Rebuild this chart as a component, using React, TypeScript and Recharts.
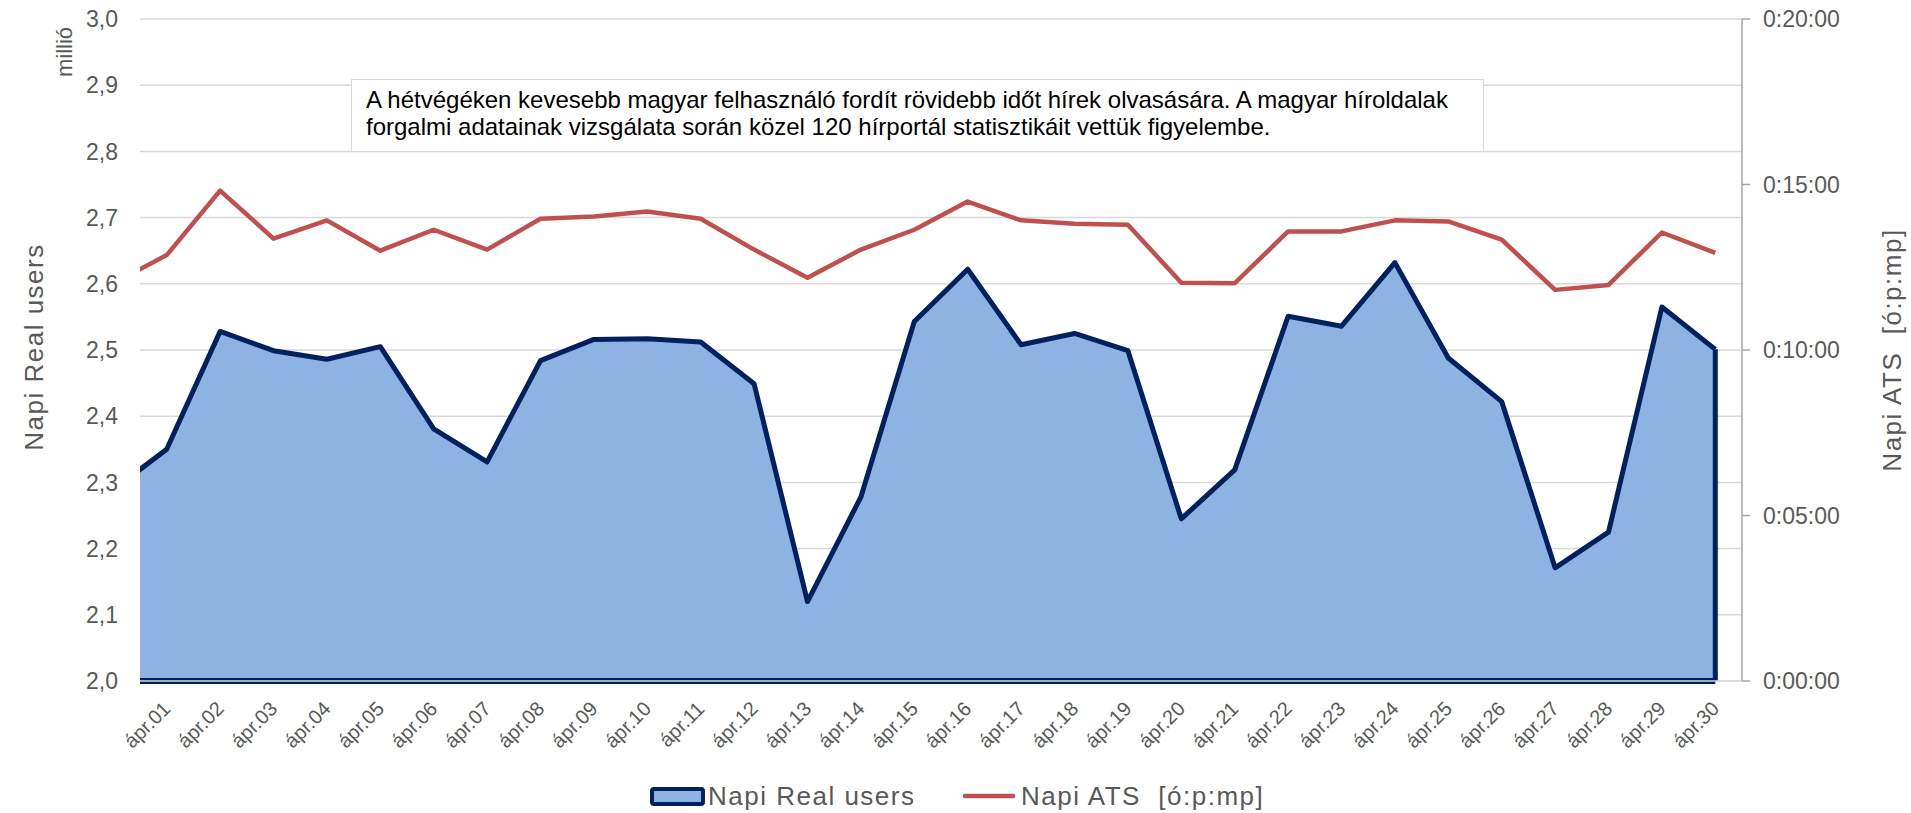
import React from 'react';
import { ComposedChart, Area, Line, XAxis, YAxis, CartesianGrid, ReferenceLine } from 'recharts';

const FONT = "'Liberation Sans', Arial, sans-serif";
const TEXT_COLOR = '#595959';

// Categories (first one lies just outside the visible axis range, as in the source)
const categories = [
  'márc.31', 'ápr.01', 'ápr.02', 'ápr.03', 'ápr.04', 'ápr.05', 'ápr.06', 'ápr.07', 'ápr.08', 'ápr.09', 'ápr.10',
  'ápr.11', 'ápr.12', 'ápr.13', 'ápr.14', 'ápr.15', 'ápr.16', 'ápr.17', 'ápr.18', 'ápr.19', 'ápr.20',
  'ápr.21', 'ápr.22', 'ápr.23', 'ápr.24', 'ápr.25', 'ápr.26', 'ápr.27', 'ápr.28', 'ápr.29', 'ápr.30',
];

// Napi Real users (millió)
const realUsers = [
  2.289, 2.350, 2.528, 2.499, 2.486, 2.505, 2.381, 2.331, 2.484, 2.516, 2.517,
  2.512, 2.449, 2.120, 2.278, 2.543, 2.622, 2.508, 2.525, 2.499, 2.245,
  2.319, 2.551, 2.536, 2.632, 2.488, 2.422, 2.171, 2.225, 2.565, 2.501,
];

// Napi ATS in seconds
const atsSeconds = [
  721, 772, 889, 802, 835, 780, 818, 782, 838, 842, 851,
  838, 782, 731, 782, 818, 869, 835, 829, 827, 722,
  721, 815, 815, 835, 833, 800, 709, 718, 813, 776,
];

const leftTicks = [2.0, 2.1, 2.2, 2.3, 2.4, 2.5, 2.6, 2.7, 2.8, 2.9, 3.0];
const rightTicks = [0, 300, 600, 900, 1200];

const textBoxLines = [
  'A hétvégéken kevesebb magyar felhasználó fordít rövidebb időt hírek olvasására. A magyar híroldalak',
  'forgalmi adatainak vizsgálata során közel 120 hírportál statisztikáit vettük figyelembe.',
];

const seriesNames = ['Napi Real users', 'Napi ATS  [ó:p:mp]'];

const data = categories.map((label, i) => ({
  x: i,
  label,
  users: realUsers[i],
  ats: atsSeconds[i],
}));

const xTicks = categories.map((_, i) => i).slice(1);
const X_MIN = 0.5;
const X_MAX = categories.length - 0.5;
const lastIdx = categories.length - 1;

const fmtLeft = (v: number) => v.toFixed(1).replace('.', ',');
const fmtRight = (v: number) => {
  const m = Math.floor(v / 60);
  const s = Math.round(v % 60);
  return `0:${String(m).padStart(2, '0')}:${String(s).padStart(2, '0')}`;
};

const XTick = (props: any) => {
  const { x, y, payload } = props;
  const ax = x + 5;
  const ay = y + 29;
  return (
    <text
      x={ax}
      y={ay}
      transform={`rotate(-45 ${ax} ${ay})`}
      textAnchor="end"
      fill={TEXT_COLOR}
      fontSize={20}
      fontFamily={FONT}
    >
      {categories[payload.value]}
    </text>
  );
};

const LeftLabel = (props: any) => {
  const vb = props.viewBox || { x: 0, y: 19, width: 140, height: 662 };
  const cy = vb.y + vb.height / 2;
  return (
    <g>
      <text
        x={vb.x + 34}
        y={cy - 3}
        transform={`rotate(-90 ${vb.x + 34} ${cy - 3})`}
        textAnchor="middle"
        dominantBaseline="central"
        fill={TEXT_COLOR}
        fontSize={26}
        letterSpacing={1.5}
        fontFamily={FONT}
      >
        Napi Real users
      </text>
      <text
        x={vb.x + 64}
        y={vb.y + 33}
        transform={`rotate(-90 ${vb.x + 64} ${vb.y + 33})`}
        textAnchor="middle"
        dominantBaseline="central"
        fill={TEXT_COLOR}
        fontSize={22}
        fontFamily={FONT}
      >
        millió
      </text>
    </g>
  );
};

const RightLabel = (props: any) => {
  const vb = props.viewBox || { x: 1742, y: 19, width: 169, height: 662 };
  const cx = vb.x + 150;
  const cy = vb.y + vb.height / 2;
  return (
    <text
      x={cx}
      y={cy}
      transform={`rotate(-90 ${cx} ${cy})`}
      textAnchor="middle"
      dominantBaseline="central"
      fill={TEXT_COLOR}
      fontSize={26}
      letterSpacing={1.5}
      fontFamily={FONT}
      style={{ whiteSpace: 'pre' }}
    >
      {seriesNames[1]}
    </text>
  );
};

export default function App() {
  return (
    <div style={{ position: 'absolute', left: 0, top: 0, width: 1911, height: 813, background: '#fff', fontFamily: FONT }}>
      <ComposedChart width={1911} height={813} data={data} margin={{ top: 19, right: 0, bottom: 0, left: 0 }}>
        <CartesianGrid yAxisId="left" vertical={false} stroke="#d9d9d9" strokeWidth={1.5} />
        <XAxis
          dataKey="x"
          type="number"
          domain={[X_MIN, X_MAX]}
          allowDataOverflow
          ticks={xTicks}
          interval={0}
          height={132}
          axisLine={false}
          tickLine={false}
          tickSize={0}
          tickMargin={0}
          tick={<XTick />}
        />
        <YAxis
          yAxisId="left"
          orientation="left"
          width={140}
          domain={[2, 3]}
          ticks={leftTicks}
          allowDataOverflow
          tickFormatter={fmtLeft}
          axisLine={false}
          tickLine={false}
          tickSize={0}
          tickMargin={22}
          tick={{ fill: TEXT_COLOR, fontSize: 23, fontFamily: FONT }}
          label={<LeftLabel />}
        />
        <YAxis
          yAxisId="right"
          orientation="right"
          width={169}
          domain={[0, 1200]}
          ticks={rightTicks}
          tickFormatter={fmtRight}
          axisLine={{ stroke: '#a6a6a6', strokeWidth: 1.5 }}
          tickLine={{ stroke: '#a6a6a6', strokeWidth: 1.5 }}
          tickSize={8}
          tickMargin={13}
          tick={{ fill: TEXT_COLOR, fontSize: 23, fontFamily: FONT }}
          label={<RightLabel />}
        />
        <Area
          yAxisId="left"
          dataKey="users"
          name={seriesNames[0]}
          type="linear"
          baseValue={2}
          fill="#8db3e2"
          fillOpacity={1}
          stroke="#002060"
          strokeWidth={5}
          strokeLinejoin="round"
          isAnimationActive={false}
          dot={false}
          activeDot={false}
        />
        <ReferenceLine
          yAxisId="left"
          segment={[{ x: X_MIN, y: 2 }, { x: lastIdx, y: 2 }]}
          stroke="#002060"
          strokeWidth={6}
        />
        <ReferenceLine
          yAxisId="left"
          segment={[{ x: lastIdx, y: 2 }, { x: lastIdx, y: realUsers[lastIdx] }]}
          stroke="#002060"
          strokeWidth={5}
        />
        <ReferenceLine yAxisId="left" y={2} stroke="#d9d9d9" strokeWidth={1.5} />
        <Line
          yAxisId="right"
          dataKey="ats"
          name={seriesNames[1]}
          type="linear"
          stroke="#c0504d"
          strokeWidth={4.5}
          strokeLinejoin="round"
          dot={false}
          activeDot={false}
          isAnimationActive={false}
        />
      </ComposedChart>

      <div
        style={{
          position: 'absolute',
          left: 351,
          top: 79,
          width: 1133,
          height: 73,
          boxSizing: 'border-box',
          border: '1.5px solid #d9d9d9',
          background: '#fff',
          paddingLeft: 14,
          paddingTop: 7,
          fontSize: 24,
          lineHeight: '26.5px',
          color: '#000',
          whiteSpace: 'nowrap',
          fontFamily: FONT,
        }}
      >
        {textBoxLines[0]}
        <br />
        {textBoxLines[1]}
      </div>

      <svg width={1911} height={60} style={{ position: 'absolute', left: 0, top: 760 }}>
        <rect x={652} y={29} width={51} height={15} rx={2} fill="#8db3e2" stroke="#002060" strokeWidth={4} />
        <text x={708} y={45} fontSize={26} letterSpacing={1.5} fill={TEXT_COLOR} fontFamily={FONT}>
          {seriesNames[0]}
        </text>
        <line x1={965} y1={36} x2={1013} y2={36} stroke="#c0504d" strokeWidth={4.5} strokeLinecap="round" />
        <text x={1021} y={45} fontSize={26} letterSpacing={1.5} fill={TEXT_COLOR} fontFamily={FONT} style={{ whiteSpace: 'pre' }}>
          {seriesNames[1]}
        </text>
      </svg>
    </div>
  );
}
